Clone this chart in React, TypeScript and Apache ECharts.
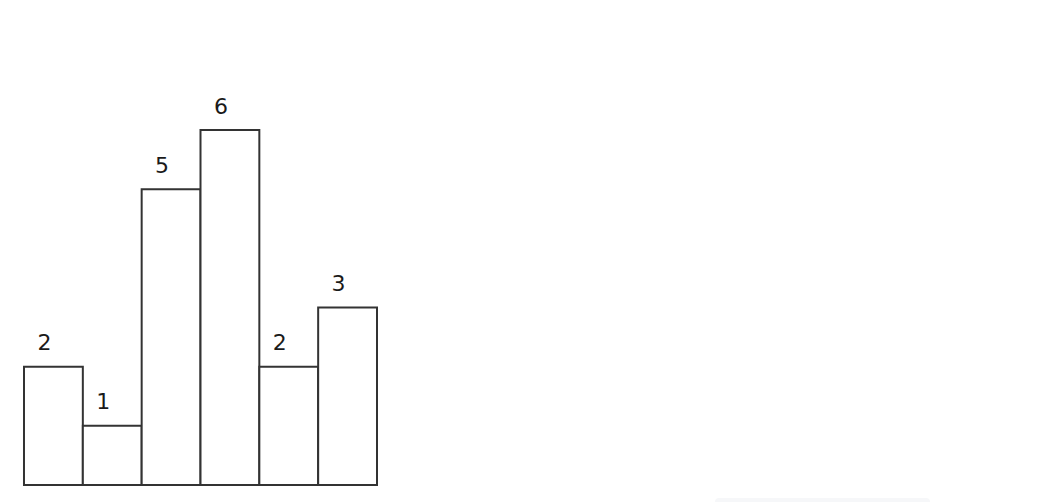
import React, { useEffect, useRef } from "react";
import * as echarts from "echarts";

const categories = ["a", "b", "c", "d", "e", "f"];
const heights = [2, 1, 5, 6, 2, 3];

export default function App() {
  const ref = useRef<HTMLDivElement>(null);
  useEffect(() => {
    if (!ref.current) return;
    const chart = echarts.init(ref.current, null, { renderer: "svg" });
    chart.setOption({
      animation: false,
      backgroundColor: "#ffffff",
      grid: { left: 24, width: 353, top: 130, bottom: 17 },
      xAxis: {
        type: "category",
        data: categories,
        axisLine: { show: false },
        axisTick: { show: false },
        axisLabel: { show: false },
        splitLine: { show: false },
      },
      yAxis: {
        type: "value",
        min: 0,
        max: 6,
        show: false,
        splitLine: { show: false },
      },
      series: [
        {
          type: "custom",
          data: heights.map((h, i) => [i, h]),
          encode: { x: 0, y: 1 },
          z: 1,
          renderItem: (params: any, api: any) => {
            const v = api.value(1);
            const top = api.coord([api.value(0), v]);
            const base = api.coord([api.value(0), 0]);
            const w = api.size([1, v])[0];
            return {
              type: "rect",
              shape: { x: top[0] - w / 2, y: top[1], width: w, height: base[1] - top[1] },
              style: { fill: "#ffffff", stroke: "#333333", lineWidth: 2 },
            };
          },
        },
        {
          type: "bar",
          data: heights,
          barCategoryGap: "0%",
          z: 3,
          itemStyle: { color: "transparent", borderWidth: 0 },
          label: {
            show: true,
            position: "top",
            distance: 13,
            offset: [-9, 0],
            fontSize: 22,
            fontFamily: "DejaVu Sans",
            color: "#1a1a1a",
          },
        },
      ],
      graphic: [
        {
          type: "rect",
          shape: { x: 715, y: 498, width: 215, height: 10, r: 4 },
          style: { fill: "#f6f7f9" },
        },
      ],
    });
    return () => chart.dispose();
  }, []);
  return (
    <div
      ref={ref}
      style={{ position: "fixed", left: 0, top: 0, width: 1048, height: 502 }}
    />
  );
}
